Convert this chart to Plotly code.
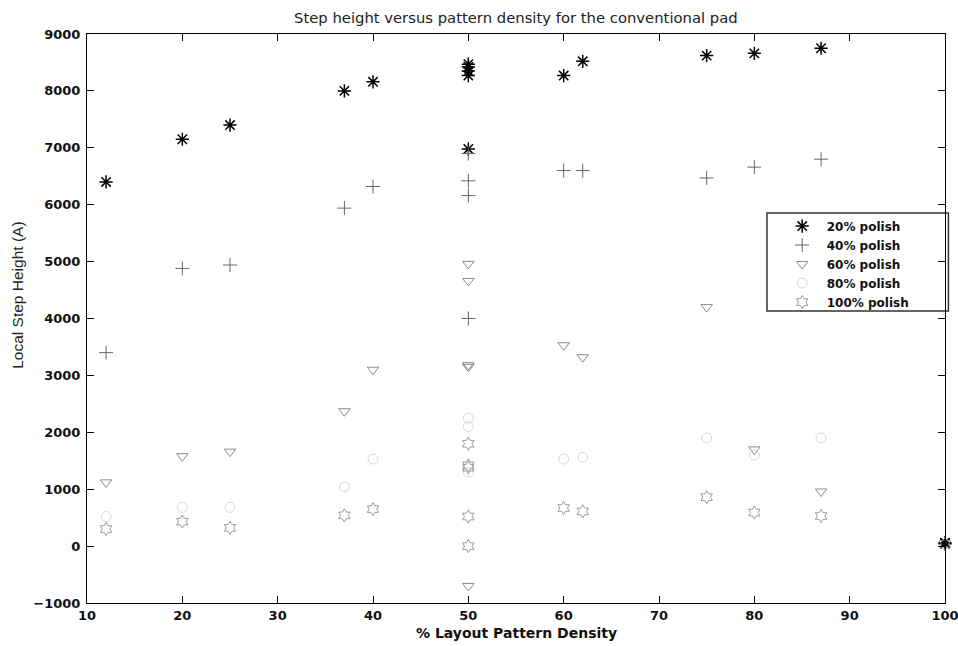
import plotly.graph_objects as go

# ---- data ----
x20 = [12, 20, 25, 37, 40, 50, 50, 50, 50, 50, 60, 62, 75, 80, 87, 100, 100]
y20 = [6400, 7150, 7400, 8000, 8160, 8470, 8420, 8350, 8270, 6980, 8270, 8520, 8620, 8660, 8750, 40, 60]

x40 = [12, 20, 25, 37, 40, 50, 50, 50, 50, 60, 62, 75, 80, 87]
y40 = [3400, 4880, 4940, 5940, 6320, 6900, 6420, 6160, 4000, 6600, 6600, 6470, 6660, 6800]

x60 = [12, 20, 25, 37, 40, 50, 50, 50, 50, 50, 60, 62, 75, 80, 87]
y60 = [1120, 1580, 1660, 2370, 3100, 4960, 4660, 3180, 3150, -700, 3530, 3320, 4200, 1700, 960]

x80 = [12, 20, 25, 37, 40, 50, 50, 50, 60, 62, 75, 80, 87]
y80 = [520, 680, 680, 1040, 1530, 2250, 2100, 1300, 1530, 1560, 1900, 1600, 1900]

x100 = [12, 20, 25, 37, 40, 50, 50, 50, 50, 50, 60, 62, 75, 80, 87, 100]
y100 = [300, 430, 320, 540, 650, 1800, 1420, 1380, 520, 0, 670, 610, 860, 590, 530, 40]

series_names = ["20% polish", "40% polish", "60% polish", "80% polish", "100% polish"]
x_ticks = [10, 20, 30, 40, 50, 60, 70, 80, 90, 100]
y_ticks = [-1000, 0, 1000, 2000, 3000, 4000, 5000, 6000, 7000, 8000, 9000]

styles = [
    dict(symbol="asterisk-open", size=11, color="#000000", width=1.5),
    dict(symbol="cross-thin-open", size=10, color="#666666", width=1),
    dict(symbol="triangle-down-open", size=10, color="#8a8a8a", width=1),
    dict(symbol="circle-open", size=10, color="#d8d8d8", width=1),
    dict(symbol="hexagram-open", size=10, color="#9a9a9a", width=1),
]

fig = go.Figure()
for name, xs, ys, st in zip(series_names, [x20, x40, x60, x80, x100],
                            [y20, y40, y60, y80, y100], styles):
    fig.add_trace(go.Scatter(
        x=xs, y=ys, mode="markers", name=name, cliponaxis=False,
        marker=dict(symbol=st["symbol"], size=st["size"],
                    color=st["color"],
                    line=dict(color=st["color"], width=st["width"])),
    ))

axis_common = dict(
    showgrid=False, zeroline=False, showline=True, linecolor="#000",
    linewidth=1, mirror="ticks", ticks="inside", ticklen=7,
    tickcolor="#000", tickwidth=1, ticklabeloverflow="allow", automargin=False,
    tickfont=dict(family="DejaVu Sans", size=13, color="#111", weight="bold"),
)

fig.update_xaxes(range=[10, 100], tickvals=x_ticks, **axis_common)
fig.update_yaxes(range=[-1000, 9000], tickvals=y_ticks,
                 ticklabelstandoff=3, **axis_common)

fig.update_layout(
    width=958, height=646,
    margin=dict(l=87, r=13, t=34, b=43, autoexpand=False),
    paper_bgcolor="white", plot_bgcolor="white",
    showlegend=True,
    legend=dict(x=0.805, y=0.688, xanchor="left", yanchor="top",
                bgcolor="rgba(0,0,0,0)", borderwidth=0, itemwidth=39,
                font=dict(family="DejaVu Sans", size=12, color="#111", weight="bold")),
    shapes=[dict(type="rect", xref="paper", yref="paper",
                 x0=0.7925, x1=1.004, y0=0.513, y1=0.6854,
                 line=dict(color="#333", width=1.5), fillcolor="white",
                 layer="below")],
    annotations=[
        dict(text="Step height versus pattern density for the conventional pad",
             xref="paper", yref="paper", x=0.5, y=1, yanchor="bottom", yshift=6,
             showarrow=False,
             font=dict(family="DejaVu Sans", size=14.8, color="#222")),
        dict(text="% Layout Pattern Density", xref="paper", yref="paper",
             x=0.5, y=-0.0527, yanchor="middle", showarrow=False,
             font=dict(family="DejaVu Sans", size=14, color="#111", weight="bold")),
        dict(text="Local Step Height (A)", xref="paper", yref="paper",
             x=-0.0804, y=0.54, xanchor="center", yanchor="middle",
             textangle=-90, showarrow=False,
             font=dict(family="Liberation Sans", size=15.5, color="#222")),
    ],
)

fig.write_html("out.html")
